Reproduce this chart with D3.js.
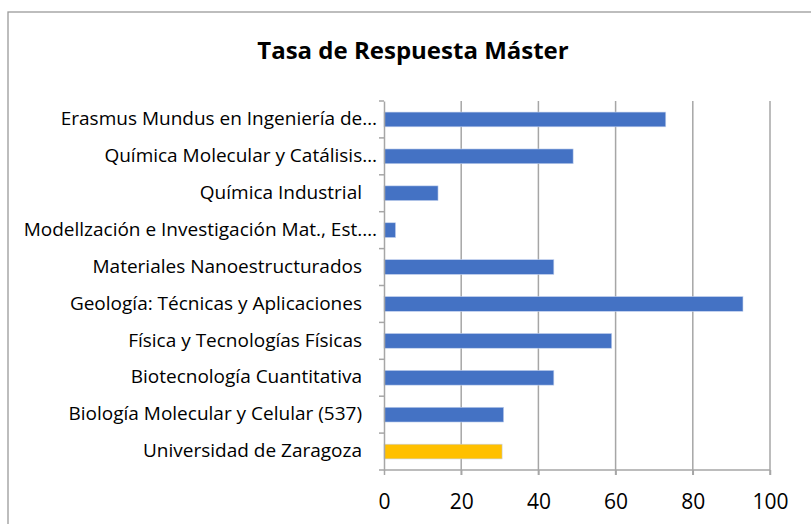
<!DOCTYPE html>
<html><head><meta charset="utf-8">
<script src="https://cdn.jsdelivr.net/npm/d3@7"></script>
<style>body{margin:0;background:#fff}svg{display:block}</style>
</head><body>
<script>
const categories = [
  "Erasmus Mundus en Ingeniería de…",
  "Química Molecular y Catálisis…",
  "Química Industrial",
  "Modellzación e Investigación Mat., Est.…",
  "Materiales Nanoestructurados",
  "Geología: Técnicas y Aplicaciones",
  "Física y Tecnologías Físicas",
  "Biotecnología Cuantitativa",
  "Biología Molecular y Celular (537)",
  "Universidad de Zaragoza"
];
const values = [73, 49, 14, 3, 44, 93, 59, 44, 31, 30.6];
const barColors = ["#4472C4","#4472C4","#4472C4","#4472C4","#4472C4","#4472C4","#4472C4","#4472C4","#4472C4","#FFC000"];
const xTicks = [0, 20, 40, 60, 80, 100];
const title = "Tasa de Respuesta Máster";

(function(){
const W = 811, H = 524;
const svg = d3.select("body").append("svg").attr("width", W).attr("height", H);
svg.append("rect").attr("x",8).attr("y",12).attr("width",820).attr("height",530)
  .attr("fill","#fff").attr("stroke","#9a9a9a").attr("stroke-width",1.3);

const font = "'Open Sans', Lato, sans-serif";
svg.append("text").attr("x",413).attr("y",59).attr("text-anchor","middle")
  .attr("font-family",font).attr("font-weight","bold").attr("font-size",24)
  .attr("fill","#000").text(title);

const pL = 384, pR = 770, pT = 101, pB = 470;
const x = d3.scaleLinear().domain([0,100]).range([pL,pR]);
const y = d3.scaleBand().domain(categories).range([pT,pB]).paddingInner(0.6).paddingOuter(0.3);
const band = d3.scaleBand().domain(categories).range([pT,pB]);

svg.append("g").selectAll("line").data(xTicks.slice(1)).join("line")
  .attr("x1",d=>x(d)).attr("x2",d=>x(d)).attr("y1",pT).attr("y2",pB+5)
  .attr("stroke","#a6a6a6").attr("stroke-width",1.5);

svg.append("g").selectAll("rect").data(categories).join("rect")
  .attr("x",x(0)).attr("y",d=>y(d)).attr("width",(d,i)=>x(values[i])-x(0))
  .attr("height",y.bandwidth()).attr("fill",(d,i)=>barColors[i])
  .attr("stroke","#c5d3ee").attr("stroke-width",0.6);

const yAxis = d3.axisLeft(band).tickSize(0).tickFormat("");
const gy = svg.append("g").attr("transform",`translate(${pL},0)`).call(yAxis);
gy.select(".domain").attr("stroke","#a6a6a6").attr("stroke-width",1.5);
svg.append("g").selectAll("line").data(d3.range(categories.length+1)).join("line")
  .attr("x1",pL-5).attr("x2",pL).attr("y1",i=>pT+i*band.bandwidth()).attr("y2",i=>pT+i*band.bandwidth())
  .attr("stroke","#a6a6a6").attr("stroke-width",1.5);
svg.append("g").selectAll("text").data(categories).join("text")
  .attr("x",d=>d.endsWith("…")?377:362).attr("y",d=>band(d)+band.bandwidth()/2).attr("dy","0.3em")
  .attr("text-anchor","end").attr("font-family",font).attr("font-size",19).attr("fill","#000")
  .text(d=>d);

const xAxis = d3.axisBottom(x).tickValues(xTicks).tickSize(5).tickPadding(19).tickFormat(d3.format("d"));
const gx = svg.append("g").attr("transform",`translate(0,${pB})`).call(xAxis);
gx.select(".domain").attr("stroke","#a6a6a6").attr("stroke-width",1.5).attr("d",`M${pL},0H${pR}`);
gx.selectAll(".tick line").attr("stroke","#a6a6a6").attr("stroke-width",1.5);
gx.selectAll(".tick text").attr("font-family",font).attr("font-size",21).attr("fill","#000");
})();
</script>
</body></html>
